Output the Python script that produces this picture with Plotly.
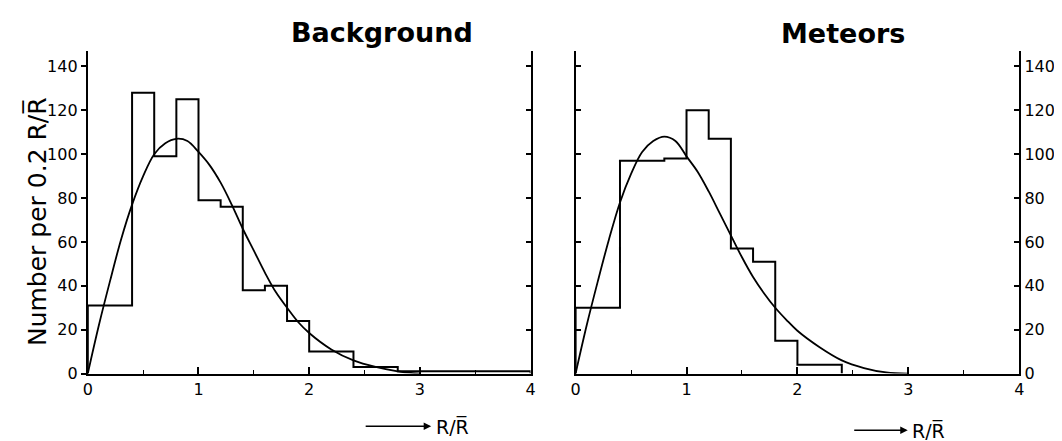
import plotly.graph_objects as go

# ---- data ----
bg_edges = [0, 0.4, 0.6, 0.8, 1.0, 1.2, 1.4, 1.6, 1.8, 2.0, 2.4, 2.8, 4.0]
bg_counts = [31, 128, 99, 125, 79, 76, 38, 40, 24, 10, 3, 1]

met_edges = [0, 0.4, 0.8, 1.0, 1.2, 1.4, 1.6, 1.8, 2.0, 2.4]
met_counts = [30, 97, 98, 120, 107, 57, 51, 15, 4]

curve_x = [0, 0.1, 0.2, 0.3, 0.4, 0.5, 0.6, 0.7, 0.8, 0.9, 1.0, 1.1, 1.2, 1.3,
           1.4, 1.5, 1.6, 1.7, 1.8, 1.9, 2.0, 2.2, 2.4, 2.6, 2.8, 3.0]
bg_curve = [0, 22, 42, 61, 77, 90, 100, 105, 107, 106, 101, 95, 87, 77,
            66, 56, 46, 37, 30, 23.5, 18.5, 11, 6, 3, 1, 0]
met_curve = [0, 22, 42, 61, 78, 91, 101, 106, 108, 106, 99, 92, 83, 73,
             63, 53, 44, 36.5, 30, 24.5, 19.5, 12, 6, 2.5, 0.5, 0]

x_tickvals = [0, 1, 2, 3, 4]
x_ticktext = ["0", "1", "2", "3", "4"]
y_tickvals = [0, 20, 40, 60, 80, 100, 120, 140]

FONT = "DejaVu Sans"
INK = "black"
RBAR = "R/R\u0305"


def step_path(edges, counts):
    xs = [edges[0]] + list(edges) + [edges[-1]]
    ys = [0] + list(counts) + [counts[-1], 0]
    return xs, ys


fig = go.Figure()

bx, by = step_path(bg_edges, bg_counts)
fig.add_trace(go.Scatter(x=bx, y=by, mode="lines", line=dict(color=INK, width=2, shape="hv"),
                         xaxis="x", yaxis="y", hoverinfo="skip", showlegend=False))
fig.add_trace(go.Scatter(x=curve_x, y=bg_curve, mode="lines",
                         line=dict(color=INK, width=1.8, shape="spline", smoothing=1.0),
                         xaxis="x", yaxis="y", showlegend=False))

mx, my = step_path(met_edges, met_counts)
fig.add_trace(go.Scatter(x=mx, y=my, mode="lines", line=dict(color=INK, width=2, shape="hv"),
                         xaxis="x2", yaxis="y2", hoverinfo="skip", showlegend=False))
fig.add_trace(go.Scatter(x=curve_x, y=met_curve, mode="lines",
                         line=dict(color=INK, width=1.8, shape="spline", smoothing=1.0),
                         xaxis="x2", yaxis="y2", showlegend=False))

# empty trace so the right frame of the left panel is drawn
fig.add_trace(go.Scatter(x=[], y=[], xaxis="x", yaxis="y3", showlegend=False, hoverinfo="skip"))

YR = [0, 146.8]
YDOM = [0.1519, 0.8991]
tickfont = dict(family=FONT, size=16, color=INK)

xcommon = dict(range=[0, 4], tickvals=x_tickvals, ticktext=x_ticktext, ticks="inside",
               ticklen=7, tickwidth=1.5, tickcolor=INK, showline=True, linecolor=INK,
               linewidth=2, showgrid=False, zeroline=False, tickfont=tickfont,
               minor=dict(dtick=0.5, ticks="inside", ticklen=4, tickcolor=INK, tickwidth=1.2))

fig.update_layout(
    width=1062, height=441,
    margin=dict(l=0, r=0, t=0, b=0),
    paper_bgcolor="white", plot_bgcolor="white",
    xaxis=dict(domain=[0.0711, 0.4920], anchor="y", **xcommon),
    xaxis2=dict(domain=[0.5348, 0.9565], anchor="y2", **xcommon),
    yaxis=dict(domain=YDOM, anchor="x", range=YR, tickvals=y_tickvals, ticks="outside",
               ticklen=5, tickwidth=1.5, tickcolor=INK, showline=True, linecolor=INK,
               linewidth=2, showgrid=False, zeroline=False, tickfont=tickfont, side="left"),
    yaxis3=dict(overlaying="y", anchor="x", side="right", range=YR, tickvals=y_tickvals,
                ticks="inside", ticklen=5, tickwidth=1.5, tickcolor=INK, showline=True,
                linecolor=INK, linewidth=2, showgrid=False, zeroline=False,
                showticklabels=False),
    yaxis2=dict(domain=YDOM, anchor="x2", range=YR, tickvals=y_tickvals, ticks="inside",
                ticklen=5, tickwidth=1.5, tickcolor=INK, showline=True, linecolor=INK,
                linewidth=2, mirror="ticks", showgrid=False, zeroline=False,
                tickfont=tickfont, side="right"),
)

title_font = dict(family=FONT, size=27, color=INK)
annotations = [
    dict(text="<b>Background</b>", x=0.3512, y=0.943, xref="paper", yref="paper",
         xanchor="center", yanchor="middle", showarrow=False, font=title_font),
    dict(text="<b>Meteors</b>", x=0.789, y=0.940, xref="paper", yref="paper",
         xanchor="center", yanchor="middle", showarrow=False, font=title_font),
    dict(text="Number per 0.2 " + RBAR, x=0.0235, y=0.505, xref="paper", yref="paper",
         xanchor="center", yanchor="middle", showarrow=False, textangle=-90,
         font=dict(family=FONT, size=25, color=INK)),
    # x labels
    dict(text=RBAR, x=0.400, y=0.0295, xref="paper", yref="paper",
         xanchor="left", yanchor="middle", showarrow=False,
         font=dict(family=FONT, size=19, color=INK)),
    dict(text=RBAR, x=0.853, y=0.0205, xref="paper", yref="paper",
         xanchor="left", yanchor="middle", showarrow=False,
         font=dict(family=FONT, size=19, color=INK)),
    dict(text=" ", x=0.3975, y=0.0295, xref="paper", yref="paper", showarrow=True,
         ax=-67, ay=0, arrowhead=2, arrowsize=1, arrowwidth=1.5, arrowcolor=INK,
         font=dict(size=1)),
    dict(text=" ", x=0.8505, y=0.0205, xref="paper", yref="paper", showarrow=True,
         ax=-55, ay=0, arrowhead=2, arrowsize=1, arrowwidth=1.5, arrowcolor=INK,
         font=dict(size=1)),
]
fig.update_layout(annotations=annotations)

fig.write_html("out.html")
